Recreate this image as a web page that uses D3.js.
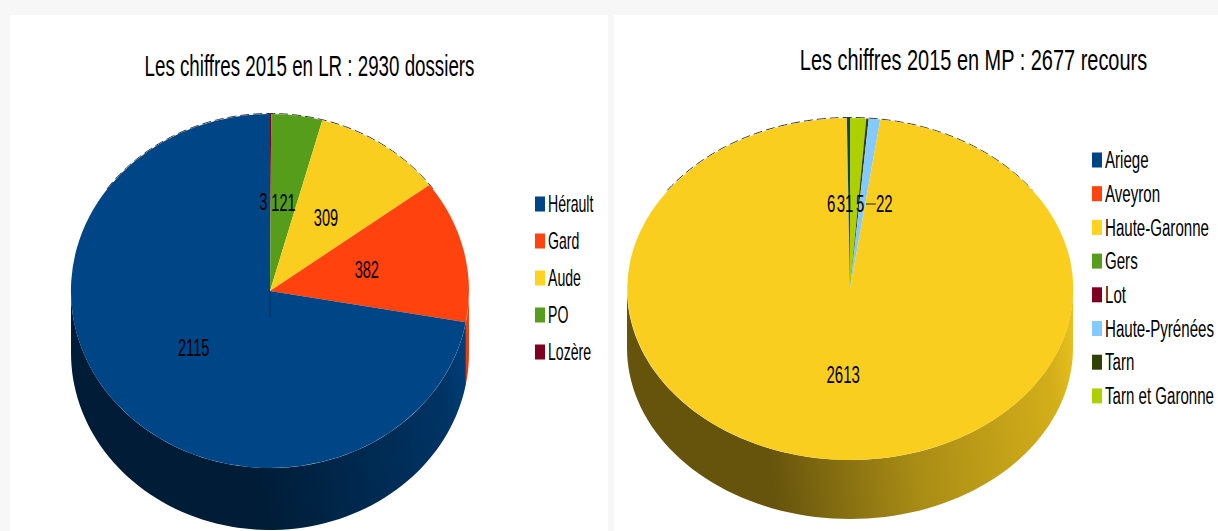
<!DOCTYPE html>
<html lang="fr">
<head>
<meta charset="utf-8">
<title>Les chiffres 2015</title>
<script src="https://cdnjs.cloudflare.com/ajax/libs/d3/7.9.0/d3.min.js"></script>
<style>
  html, body { margin: 0; padding: 0; background: #f7f7f7; }
  svg { display: block; }
  text { font-family: "Liberation Sans", Arial, sans-serif; fill: #000; }
</style>
</head>
<body>
<svg id="chart" width="1218" height="531"></svg>
<script>
// Dossiers en Languedoc-Roussillon
const lrNames = ["Hérault", "Gard", "Aude", "PO", "Lozère"];
const lrValues = [2115, 382, 309, 121, 3];
const lrColors = ["#004586", "#ff420e", "#f9ce1f", "#579d1c", "#7e0021"];

// Recours en Midi-Pyrénées
const mpNames = ["Ariege", "Aveyron", "Haute-Garonne", "Gers", "Lot", "Haute-Pyrénées", "Tarn", "Tarn et Garonne"];
const mpValues = [6, 0, 2613, 0, 0, 22, 5, 31];
const mpColors = ["#004586", "#ff420e", "#f9ce1f", "#579d1c", "#7e0021", "#83caff", "#314004", "#aecf00"];

const svg = d3.select("#chart");
const defs = svg.append("defs");

svg.append("rect").attr("x", 10).attr("y", 15).attr("width", 598).attr("height", 516).attr("fill", "#fff");
svg.append("rect").attr("x", 614).attr("y", 15).attr("width", 604).attr("height", 516).attr("fill", "#fff");

// Draws one tilted pie: side wall first, then the top face, labels and legend.
function drawPie(cfg) {
  const g = svg.append("g");
  const { cx, cy, rx, ry, depth } = cfg;
  const rows = cfg.names.map((name, i) => ({ name, value: cfg.values[i], color: cfg.colors[i], i }));

  // Slices run clockwise from twelve o'clock, last legend entry first.
  const arcs = d3.pie().sort(null).value(d => d.value)(rows.slice().reverse());
  const unit = d3.arc().innerRadius(0).outerRadius(1);
  const px = a => cx + rx * Math.sin(a);
  const py = a => cy - ry * Math.cos(a);

  // Wall shading runs dark on the left to lighter on the right.
  arcs.forEach(a => {
    const lo = Math.max(a.startAngle, Math.PI / 2);
    const hi = Math.min(a.endAngle, 3 * Math.PI / 2);
    if (hi <= lo) return;
    const id = `wall-${cfg.key}-${a.data.i}`;
    const base = d3.color(a.data.color);
    const grad = defs.append("linearGradient").attr("id", id)
      .attr("gradientUnits", "userSpaceOnUse")
      .attr("x1", cx - rx).attr("y1", cy + depth)
      .attr("x2", cx + rx).attr("y2", cy);
    cfg.wallStops.forEach(([offset, k]) => {
      grad.append("stop").attr("offset", offset)
        .attr("stop-color", d3.rgb(base.r * k, base.g * k, base.b * k).formatHex());
    });
    const n = 80;
    const angles = d3.range(n + 1).map(t => lo + (hi - lo) * t / n);
    const outline = angles.map(t => [px(t), py(t)])
      .concat(angles.slice().reverse().map(t => [px(t), py(t) + depth]));
    g.append("path").attr("d", d3.line()(outline) + "Z").attr("fill", `url(#${id})`);
  });

  // Rear rim just showing above the top face.
  g.append("path")
    .attr("d", d3.line()(d3.range(-55, 56).map(t => {
      const a = t * Math.PI / 180;
      return [px(a), py(a) - 0.5];
    })))
    .attr("fill", "none").attr("stroke", "#333").attr("stroke-width", 1)
    .attr("stroke-dasharray", "9 4");

  // Top face: a unit-radius arc squeezed into the ellipse.
  g.append("g")
    .attr("transform", `translate(${cx},${cy}) scale(${rx},${ry})`)
    .selectAll("path").data(arcs).join("path")
    .attr("d", unit)
    .attr("fill", d => d.data.color);

  // Thin seam dropping from the hub.
  if (cfg.seamDown > 0) {
    g.append("line")
      .attr("x1", cx).attr("x2", cx)
      .attr("y1", cy).attr("y2", cy + cfg.seamDown)
      .attr("stroke", cfg.seamColor).attr("stroke-width", 1).attr("stroke-opacity", 0.7);
  }

  // Value labels sit halfway along each slice; crowded ones are nudged sideways.
  arcs.filter(d => d.data.value > 0).forEach(d => {
    const mid = (d.startAngle + d.endAngle) / 2;
    const x = cx + 0.5 * rx * Math.sin(mid) + (cfg.nudge[d.data.name] || 0);
    const y = cy - 0.5 * ry * Math.cos(mid);
    g.append("text")
      .attr("transform", `translate(${x},${y}) scale(${cfg.labelSqueeze},1)`)
      .attr("text-anchor", "middle").attr("dominant-baseline", "central")
      .attr("font-size", 23)
      .text(d.data.value);
  });

  // Leader line between a displaced label and its slice.
  if (cfg.leader) {
    g.append("line")
      .attr("x1", cfg.leader[0]).attr("x2", cfg.leader[1])
      .attr("y1", cfg.leader[2]).attr("y2", cfg.leader[2])
      .attr("stroke", "#222").attr("stroke-width", 1);
  }

  // Chart title
  g.append("text")
    .attr("transform", `translate(${cfg.titleX},${cfg.titleY}) scale(${cfg.titleSqueeze},1)`)
    .attr("text-anchor", "middle").attr("dominant-baseline", "central")
    .attr("font-size", cfg.titleSize)
    .text(cfg.title);

  // Legend
  const items = g.append("g").selectAll("g").data(rows).join("g")
    .attr("transform", (d, i) => `translate(${cfg.legendX},${cfg.legendY + i * cfg.legendStep})`);
  items.append("rect")
    .attr("x", 0).attr("y", -7.5).attr("width", 10).attr("height", 15)
    .attr("fill", d => d.color === "#f9ce1f" ? "#ffd320" : d.color);
  items.append("text")
    .attr("transform", `translate(13,0) scale(${cfg.legendSqueeze},1)`)
    .attr("dominant-baseline", "central")
    .attr("font-size", 23)
    .text(d => d.name);
}

drawPie({
  key: "lr", names: lrNames, values: lrValues, colors: lrColors,
  cx: 270, cy: 291, rx: 199, ry: 177, depth: 62,
  wallStops: [[0, 0.4], [0.42, 0.42], [0.9, 0.75], [1, 0.98]],
  seamDown: 26, seamColor: "#0a2a4a",
  nudge: { "Lozère": -7 },
  labelSqueeze: 0.635, legendSqueeze: 0.613, titleSqueeze: 0.625, titleSize: 30,
  title: "Les chiffres 2015 en LR : 2930 dossiers", titleX: 309.5, titleY: 65,
  legendX: 535, legendY: 204, legendStep: 37
});

drawPie({
  key: "mp", names: mpNames, values: mpValues, colors: mpColors,
  cx: 850, cy: 289, rx: 223, ry: 171, depth: 59,
  wallStops: [[0, 0.41], [0.28, 0.41], [0.6, 0.68], [0.93, 0.85], [1, 0.95]],
  seamDown: 0, seamColor: "#333",
  nudge: { "Ariege": -18, "Tarn et Garonne": -9, "Tarn": 1.5, "Haute-Pyrénées": 22 },
  leader: [866, 876, 204],
  labelSqueeze: 0.655, legendSqueeze: 0.656, titleSqueeze: 0.688, titleSize: 29,
  title: "Les chiffres 2015 en MP : 2677 recours", titleX: 973.5, titleY: 60,
  legendX: 1092, legendY: 160, legendStep: 33.7
});
</script>
</body>
</html>
